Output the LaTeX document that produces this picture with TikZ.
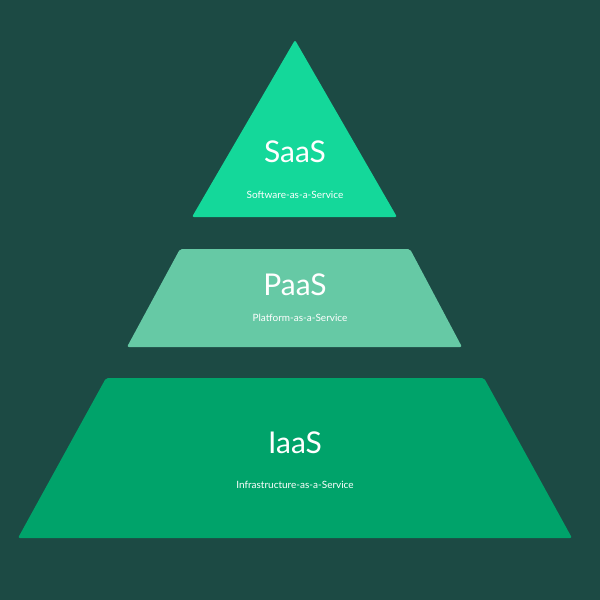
\documentclass[tikz,border=0pt]{standalone}
\usepackage{fontspec}
\setmainfont{Lato}
\definecolor{bgc}{HTML}{1C4A44}
\definecolor{saasc}{HTML}{14D89A}
\definecolor{paasc}{HTML}{66C9A5}
\definecolor{iaasc}{HTML}{00A36A}
\begin{document}
\begin{tikzpicture}[x=1pt, y=-1pt,
                layer/.style = {rounded corners = 2pt},
                big/.style = {text = white, font = \fontsize{30}{30}\selectfont},
                small/.style = {text = white, font = \fontsize{10}{10}\selectfont},
            ]
            \fill[bgc] (0,0) rectangle (600,600);
            \useasboundingbox (0,0) rectangle (600,600);

            \fill[layer, saasc] (295,40) -- (397,217) -- (192,217) -- cycle;
            \fill[layer, paasc] (180,249) -- (410,249) -- (462,347) -- (127,347) -- cycle;
            \fill[layer, iaasc] (106,378) -- (484,378) -- (572,538) -- (18,538) -- cycle;

            \node (saas) [big] at (295,152) {SaaS};
            \node (saassub) [small] at (295,195) {Software-as-a-Service};
            \node (paas) [big] at (295,285) {PaaS};
            \node (paassub) [small] at (300,318) {Platform-as-a-Service};
            \node (iaas) [big] at (295,443) {IaaS};
            \node (iaassub) [small] at (295,485) {Infrastructure-as-a-Service};
        \end{tikzpicture}
\end{document}
